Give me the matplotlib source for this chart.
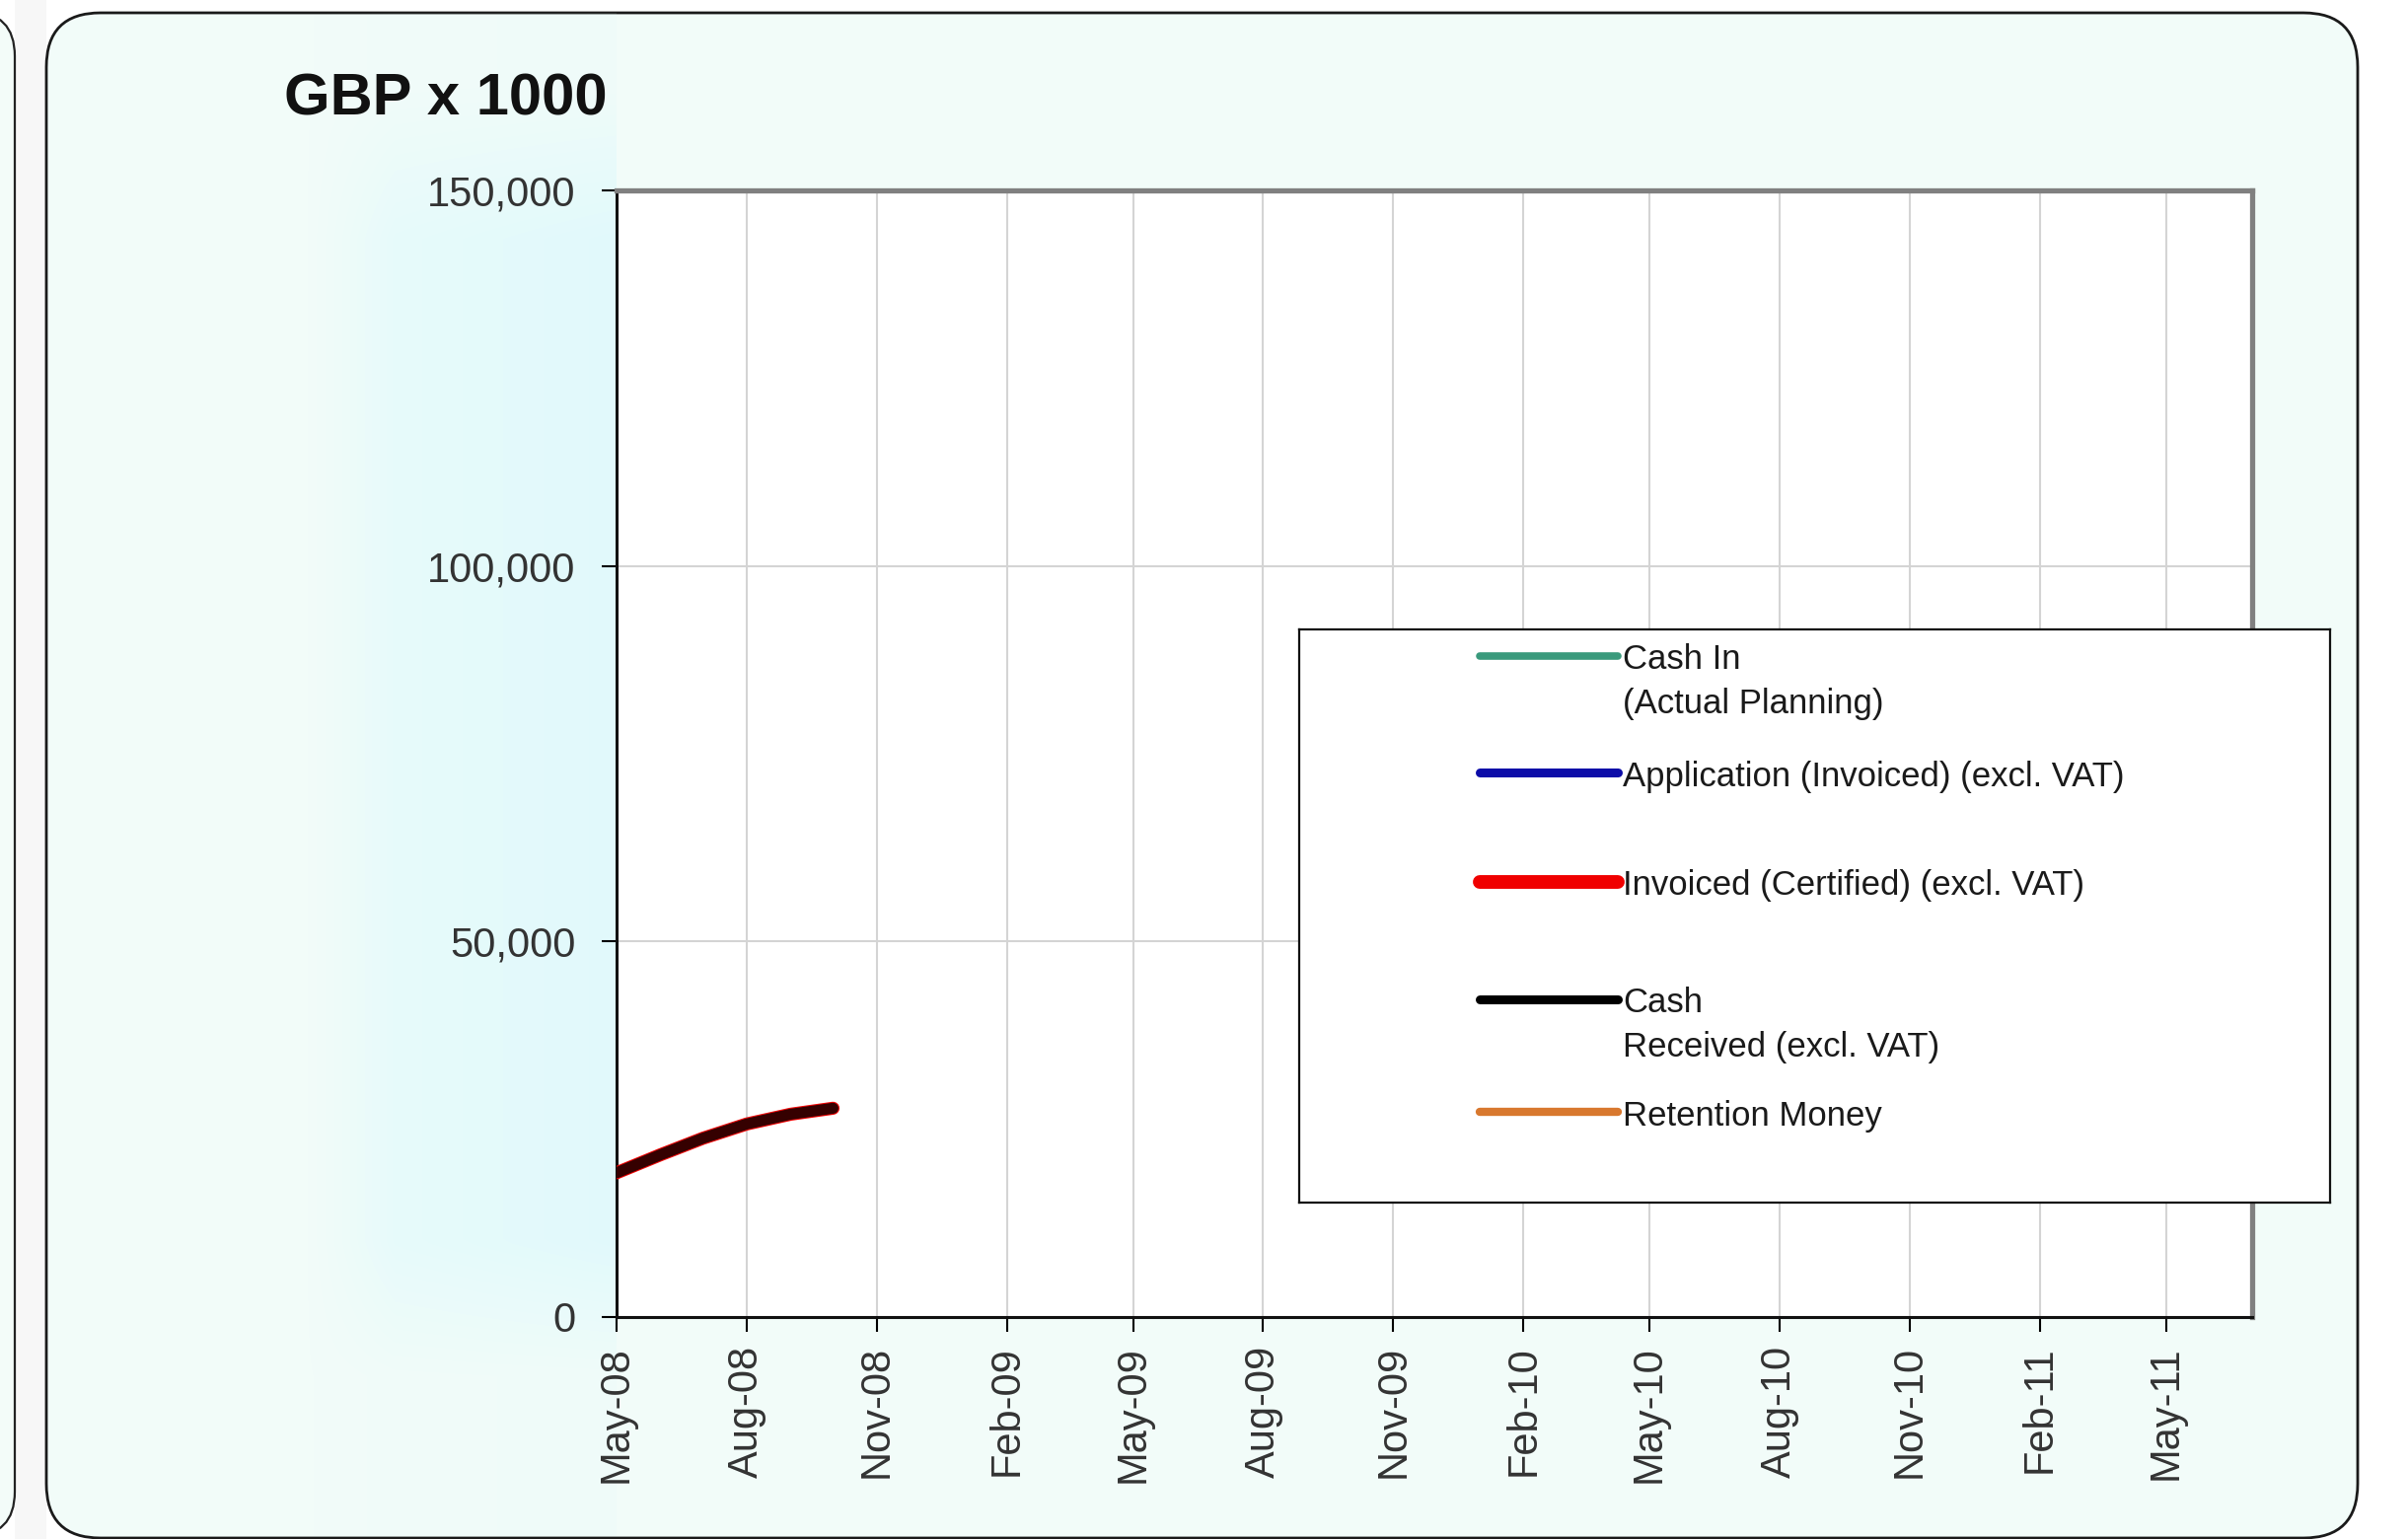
import numpy as np
import pandas as pd
import matplotlib
matplotlib.use('Agg')
import matplotlib.pyplot as plt
from matplotlib.patches import FancyBboxPatch, Rectangle
from matplotlib.ticker import FuncFormatter

plt.rcParams['font.family'] = ['Liberation Sans', 'DejaVu Sans']

W, H = 2441, 1560

# Datos (GBP x 1000)
months = ['May-08', 'Jun-08', 'Jul-08', 'Aug-08', 'Sep-08', 'Oct-08']
invoiced = [19200, 21600, 23800, 25700, 27000, 27800]
cash_received = [19200, 21600, 23800, 25700, 27000, 27800]

series_names = ['Cash In\n(Actual Planning)',
                'Application (Invoiced) (excl. VAT)',
                'Invoiced (Certified) (excl. VAT)',
                'Cash\nReceived (excl. VAT)',
                'Retention Money']
series_colors = ['#3a9a7c', '#0c0ca8', '#f00000', '#000000', '#d8782e']

x_ticks = ['May-08', 'Aug-08', 'Nov-08', 'Feb-09', 'May-09', 'Aug-09', 'Nov-09',
           'Feb-10', 'May-10', 'Aug-10', 'Nov-10', 'Feb-11', 'May-11']
y_ticks = [0, 50000, 100000, 150000]

fig = plt.figure(figsize=(W / 100, H / 100), dpi=100, facecolor='white')

# Fondo: paneles redondeados
bg = fig.add_axes([0, 0, 1, 1], zorder=0)
bg.axis('off')
bg.add_patch(Rectangle((15, 0), 32, H, fc='#f7f7f7', ec='none'))
bg.add_patch(FancyBboxPatch((-120, 12), 135, 1545, boxstyle='round,pad=0,rounding_size=45',
                            fc='#f3fcf9', ec='#222222', lw=1.6))
panel = FancyBboxPatch((47, 13), 2343, 1546, boxstyle='round,pad=0,rounding_size=55',
                       fc='#f2fcf9', ec='#1a1a1a', lw=2.0, zorder=1)
bg.add_patch(panel)

# Banda azulada junto al eje
xs = np.linspace(310, 625, 200)
ys = np.linspace(13, 1557, 300)
ramp = np.clip((xs - 310) / 90, 0, 1) * (0.55 + 0.45 * (xs - 310) / 315)
env = np.clip(np.minimum((ys - 60) / 180, (1420 - ys) / 160), 0.15, 1)
img = np.zeros((len(ys), len(xs), 4))
img[..., 0] = 0.84
img[..., 1] = 0.975
img[..., 2] = 0.995
img[..., 3] = np.outer(env, ramp) * 0.6
im = bg.imshow(img, extent=(310, 625, 1557, 13), origin='upper', interpolation='bilinear',
               zorder=2)
im.set_clip_path(panel)
bg.set_aspect('auto')
bg.set_xlim(0, W)
bg.set_ylim(H, 0)

fig.text(288 / W, 1 - 101 / H, 'GBP x 1000', fontsize=43, fontweight='bold',
         va='center', ha='left', color='#111111')

# Grafico principal
ax = fig.add_axes([625 / W, 225 / H, 1658 / W, 1142 / H], zorder=1)
ax.set_facecolor('white')

dates = pd.to_datetime(months, format='%b-%y')
ax.plot(dates, invoiced, color=series_colors[2], lw=9.5, solid_capstyle='round', zorder=3)
ax.plot(dates, cash_received, color='black', alpha=0.78, lw=8, solid_capstyle='round', zorder=4)

ax.set_xlim(pd.Timestamp('2008-05-01'), pd.Timestamp('2011-07-01'))
ax.set_ylim(0, 150000)
ax.set_xticks(pd.to_datetime(x_ticks, format='%b-%y'))
ax.set_xticklabels(x_ticks, rotation=90)
ax.set_yticks(y_ticks)
ax.yaxis.set_major_formatter(FuncFormatter(lambda v, p: f'{int(v):,}'))

ax.tick_params(axis='x', length=11, width=1.5, pad=10, labelsize=30, labelcolor='#333333')
ax.tick_params(axis='y', length=11, width=1.5, pad=19, labelsize=30, labelcolor='#333333')
ax.grid(True, color='#d4d4d4', lw=1.5)
ax.set_axisbelow(True)

for s in ['left', 'bottom']:
    ax.spines[s].set_color('#111111')
    ax.spines[s].set_linewidth(2.2)
for s in ['top', 'right']:
    ax.spines[s].set_color('#808080')
    ax.spines[s].set_linewidth(3.8)

# Leyenda
lax = fig.add_axes([1317 / W, (H - 1219) / H, 1045 / W, 581 / H], zorder=3)
lax.set_xlim(1317, 2362)
lax.set_ylim(1219, 638)
lax.set_xticks([])
lax.set_yticks([])
lax.set_facecolor('white')
for s in lax.spines.values():
    s.set_color('#111111')
    s.set_linewidth(1.6)

handle_y = [665, 783, 894, 1013, 1127]
handle_lw = [5.5, 6.5, 10, 6.5, 6]
for name, col, y, lw in zip(series_names, series_colors, handle_y, handle_lw):
    lax.plot([1500, 1640], [y, y], color=col, lw=lw, solid_capstyle='round')
    for j, line in enumerate(name.split('\n')):
        lax.text(1645, y + 4 + j * 44, line, va='center', ha='left',
                 fontsize=25, color='#1a1a1a')

fig.savefig('out.png', dpi=100)
